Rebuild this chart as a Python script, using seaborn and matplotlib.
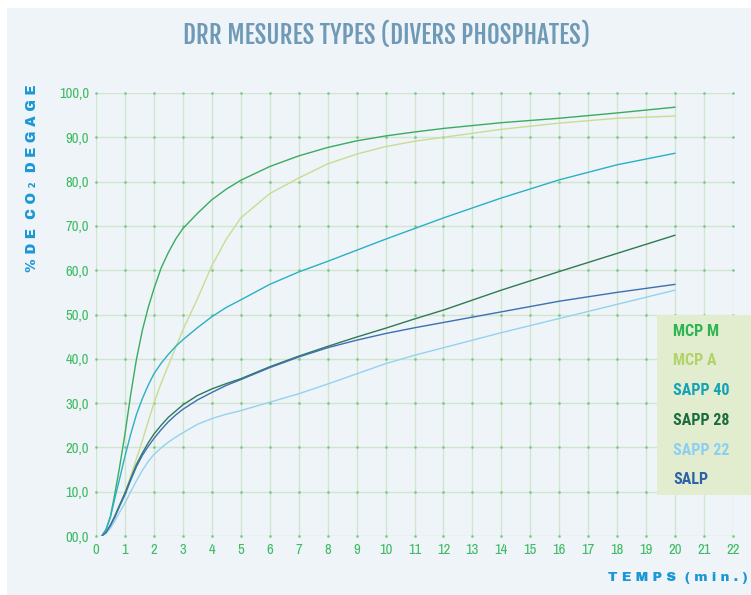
import numpy as np
import pandas as pd
import matplotlib
matplotlib.use("Agg")
import matplotlib.pyplot as plt
from matplotlib.patches import Rectangle
import seaborn as sns

# temps (min.) commun à toutes les courbes
temps = [0.2, 0.35, 0.5, 0.65, 0.8, 1, 1.2, 1.4, 1.6, 1.8, 2, 2.25, 2.5, 2.75, 3, 3.5, 4, 4.5, 5,
         6, 7, 8, 9, 10, 11, 12, 14, 16, 18, 20]

mcp_m = [0, 1.5, 4.5, 9.5, 15, 23, 32, 40, 46.4, 51.5, 55.8, 60.5, 64, 67, 69.4, 72.8, 75.9, 78.3, 80.3,
         83.4, 85.8, 87.7, 89.2, 90.3, 91.2, 92, 93.3, 94.3, 95.5, 96.8]
mcp_a = [0, 0.8, 2.2, 4, 6.5, 9.7, 13.5, 17.5, 21.5, 25.8, 30, 34.5, 38.5, 42.5, 46.5, 53.5, 61, 67, 71.8,
         77.3, 80.8, 84, 86.2, 87.9, 89.1, 90, 91.8, 93.2, 94.3, 94.8]
sapp_40 = [0, 1.5, 4.3, 8.5, 12.5, 18, 23, 27.5, 31, 34, 36.6, 39, 41, 42.8, 44.3, 47, 49.5, 51.6, 53.3,
           56.8, 59.6, 62, 64.5, 67, 69.4, 71.8, 76.3, 80.4, 83.8, 86.4]
sapp_28 = [0, 0.8, 2.5, 4.5, 6.8, 9.7, 13, 16.2, 18.7, 21, 23, 25, 26.8, 28.2, 29.6, 31.7, 33.2, 34.4, 35.5,
           38.2, 40.6, 42.8, 44.9, 46.9, 49, 51, 55.5, 59.7, 63.8, 67.9]
sapp_22 = [0, 0.6, 1.8, 3.4, 5.2, 7.4, 10, 12.5, 14.8, 16.8, 18.4, 19.9, 21.2, 22.3, 23.3, 25.2, 26.5, 27.5, 28.3,
           30.2, 32.1, 34.3, 36.6, 38.9, 40.8, 42.5, 45.9, 49.1, 52.3, 55.5]
salp = [0, 0.8, 2.4, 4.3, 6.5, 9.3, 12.6, 15.7, 18.2, 20.2, 22, 24, 25.8, 27.3, 28.6, 30.7, 32.4, 34, 35.3,
        38, 40.4, 42.5, 44.2, 45.7, 47, 48.2, 50.6, 53, 55, 56.8]

series_names = ["MCP M", "MCP A", "SAPP 40", "SAPP 28", "SAPP 22", "SALP"]
line_colors = ["#3aab63", "#c9dc93", "#2ab0c6", "#2f7a55", "#93d3f0", "#3d6fb4"]
text_colors = ["#2db552", "#b3d36a", "#14a2b6", "#1b6c3f", "#8ccff0", "#2d62a8"]

x_ticks = list(range(0, 23))
y_ticks = list(range(0, 101, 10))

df = pd.DataFrame({"Temps": temps, "MCP M": mcp_m, "MCP A": mcp_a, "SAPP 40": sapp_40,
                   "SAPP 28": sapp_28, "SAPP 22": sapp_22, "SALP": salp})
long_df = df.melt(id_vars="Temps", var_name="Serie", value_name="CO2")

sns.set_style("white")
plt.rcParams['font.family'] = ['Archivo Narrow', 'DejaVu Sans']

fig = plt.figure(figsize=(7.51, 5.95), dpi=100)
fig.patch.set_facecolor("white")
fig.patches.append(Rectangle((7 / 751, 0), 1, 1 - 8 / 595, transform=fig.transFigure,
                             facecolor="#eef4f7", edgecolor="none", zorder=-10))

ax = fig.add_axes([96 / 751, 59 / 595, 637 / 751, 443 / 595])
ax.set_facecolor("none")

palette = dict(zip(series_names, line_colors))
sns.lineplot(data=long_df, x="Temps", y="CO2", hue="Serie", hue_order=series_names,
             palette=palette, linewidth=1.0, ax=ax, legend=False)

ax.set_xlim(0, 22)
ax.set_ylim(0, 100)
ax.set_xticks(x_ticks)
ax.set_yticks(y_ticks)
ax.set_yticklabels([f"{v:04.1f}".replace(".", ",") for v in y_ticks])
ax.tick_params(length=0, labelsize=10.5, labelcolor="#3dba63", pad=5)
ax.grid(True, color="#d0e6cf", linewidth=1.0)
for s in ax.spines.values():
    s.set_visible(False)
ax.set_xlabel("")
ax.set_ylabel("")

# petits points aux intersections
gx, gy = np.meshgrid(x_ticks, y_ticks)
ax.plot(gx.ravel(), gy.ravel(), ls="none", marker="o", ms=0.9, color="#7cc887", zorder=1, clip_on=False)

fig.text(0.514, 1 - 35 / 595, "DRR MESURES TYPES (DIVERS PHOSPHATES)", ha="center", va="center",
         fontsize=18, color="#6f9ab7", family=['Fjalla One', 'DejaVu Sans'])
fig.text(32 / 751, 1 - 178 / 595, "% D E  C O ₂  D E G A G E", rotation=90, ha="center", va="center",
         fontsize=10, fontweight="bold", color="#1a98d5", family=['Archivo Black', 'DejaVu Sans'])
fig.text(748 / 751, 1 - 578 / 595, "T E M P S  ( m i n . )", ha="right", va="center",
         fontsize=9.5, fontweight="bold", color="#1a98d5", family=['Archivo Black', 'DejaVu Sans'])

# légende
fig.patches.append(Rectangle((657 / 751, 1 - 495 / 595), 94 / 751, 180 / 595, transform=fig.transFigure,
                             facecolor="#e2edd0", edgecolor="none", zorder=0))
for i, (name, col) in enumerate(zip(series_names, text_colors)):
    fig.text(673 / 751, 1 - (331 + i * 29.8) / 595, name, ha="left", va="center",
             fontsize=11.5, fontweight="bold", color=col, family=['Roboto Condensed', 'DejaVu Sans'])

fig.savefig("out.png", dpi=100, facecolor=fig.get_facecolor())
